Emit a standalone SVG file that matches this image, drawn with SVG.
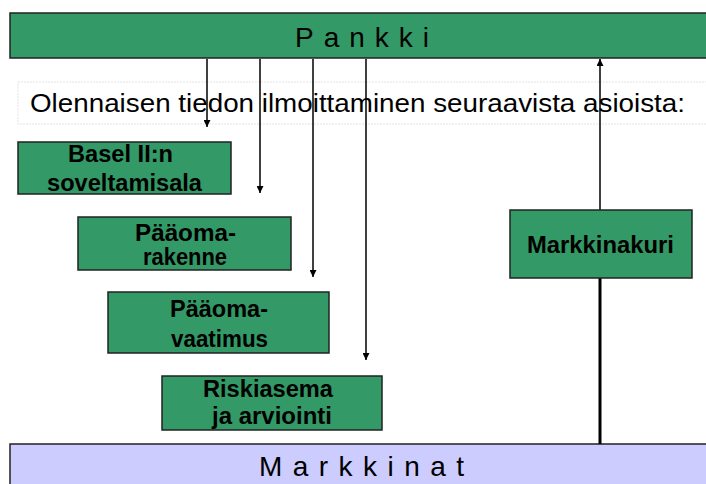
<svg xmlns="http://www.w3.org/2000/svg" width="706" height="484" viewBox="0 0 706 484">
<style>
.box{fill:#339966;stroke:#222;stroke-width:1.5}
.lbl{font-family:"Liberation Sans",Arial,sans-serif;font-weight:bold;font-size:23px;fill:#000;text-anchor:middle}
.big{font-family:"Liberation Sans",Arial,sans-serif;font-size:28px;fill:#000}
.ln{stroke:#000;stroke-width:1.5;fill:none}
</style>
<defs>
<marker id="ah" viewBox="0 0 10 10" refX="10" refY="5" markerWidth="7" markerHeight="7" orient="auto" markerUnits="userSpaceOnUse">
<path d="M0,0 L10,5 L0,10 z" fill="#000"/>
</marker>
</defs>
<rect width="706" height="484" fill="#fff"/>
<g id="pankki">
<rect class="box" x="10" y="13" width="700" height="45"/>
<text class="big" x="295" y="47" textLength="134" lengthAdjust="spacing">Pankki</text>
</g>
<g id="intro">
<rect x="18" y="82" width="692" height="42" fill="#fff" stroke="#e3e3e3" stroke-width="1" stroke-dasharray="2 1"/>
<text x="30" y="112" font-family="Liberation Sans,Arial,sans-serif" font-size="25" textLength="655" lengthAdjust="spacingAndGlyphs">Olennaisen tiedon ilmoittaminen seuraavista asioista:</text>
</g>
<g id="markkinat">
<rect x="10" y="444" width="700" height="44" fill="#ccccff" stroke="#222" stroke-width="1.5"/>
<text class="big" font-size="27" x="259" y="476" textLength="205" lengthAdjust="spacing">Markkinat</text>
</g>
<g id="connectors">
<line class="ln" x1="207" y1="59" x2="207" y2="127" marker-end="url(#ah)"/>
<line class="ln" x1="260" y1="59" x2="260" y2="193" marker-end="url(#ah)"/>
<line class="ln" x1="313" y1="59" x2="313" y2="277" marker-end="url(#ah)"/>
<line class="ln" x1="366" y1="59" x2="366" y2="360" marker-end="url(#ah)"/>
<line x1="600" y1="444" x2="600" y2="278" stroke="#000" stroke-width="3"/>
<line class="ln" x1="600" y1="278" x2="600" y2="59" marker-end="url(#ah)"/>
</g>
<g id="basel">
<rect class="box" x="18" y="142" width="213" height="52"/>
<text class="lbl" x="120.5" y="162" textLength="105" lengthAdjust="spacingAndGlyphs">Basel II:n</text>
<text class="lbl" x="124.5" y="191" textLength="155" lengthAdjust="spacingAndGlyphs">soveltamisala</text>
</g>
<g id="paaomarakenne">
<rect class="box" x="78" y="217" width="213" height="53"/>
<text class="lbl" x="185.5" y="241" textLength="101" lengthAdjust="spacingAndGlyphs">Pääoma-</text>
<text class="lbl" x="185" y="265" textLength="84" lengthAdjust="spacingAndGlyphs">rakenne</text>
</g>
<g id="paaomavaatimus">
<rect class="box" x="108" y="292" width="221" height="61"/>
<text class="lbl" x="219" y="317" textLength="98" lengthAdjust="spacingAndGlyphs">Pääoma-</text>
<text class="lbl" x="219.5" y="347" textLength="97" lengthAdjust="spacingAndGlyphs">vaatimus</text>
</g>
<g id="riskiasema">
<rect class="box" x="162" y="376" width="220" height="54"/>
<text class="lbl" x="268" y="397" textLength="130" lengthAdjust="spacingAndGlyphs">Riskiasema</text>
<text class="lbl" x="272" y="424" textLength="120" lengthAdjust="spacingAndGlyphs">ja arviointi</text>
</g>
<g id="markkinakuri">
<rect class="box" x="510" y="210" width="182" height="68"/>
<text class="lbl" x="600.5" y="253" textLength="147" lengthAdjust="spacingAndGlyphs">Markkinakuri</text>
</g>
</svg>
